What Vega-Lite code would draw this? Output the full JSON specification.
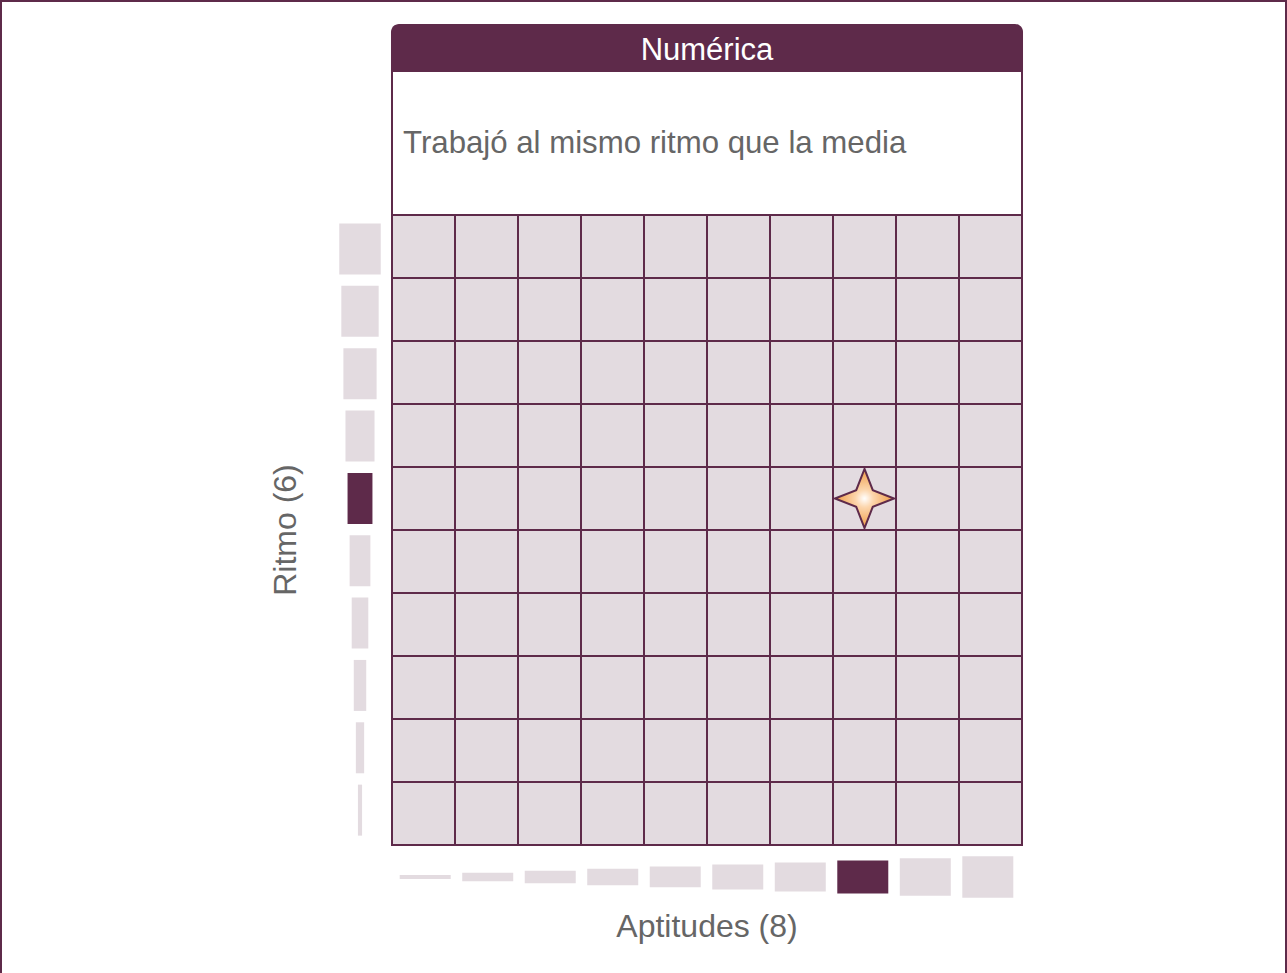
{
  "$schema": "https://vega.github.io/schema/vega-lite/v6.json",
  "width": 1287,
  "height": 973,
  "autosize": "none",
  "padding": 0,
  "background": "white",
  "config": {"view": {"stroke": null}, "font": "Liberation Sans"},
  "datasets": {
    "celdas": [
      {"aptitudes":1,"ritmo":1},{"aptitudes":1,"ritmo":2},{"aptitudes":1,"ritmo":3},{"aptitudes":1,"ritmo":4},{"aptitudes":1,"ritmo":5},{"aptitudes":1,"ritmo":6},{"aptitudes":1,"ritmo":7},{"aptitudes":1,"ritmo":8},{"aptitudes":1,"ritmo":9},{"aptitudes":1,"ritmo":10},
      {"aptitudes":2,"ritmo":1},{"aptitudes":2,"ritmo":2},{"aptitudes":2,"ritmo":3},{"aptitudes":2,"ritmo":4},{"aptitudes":2,"ritmo":5},{"aptitudes":2,"ritmo":6},{"aptitudes":2,"ritmo":7},{"aptitudes":2,"ritmo":8},{"aptitudes":2,"ritmo":9},{"aptitudes":2,"ritmo":10},
      {"aptitudes":3,"ritmo":1},{"aptitudes":3,"ritmo":2},{"aptitudes":3,"ritmo":3},{"aptitudes":3,"ritmo":4},{"aptitudes":3,"ritmo":5},{"aptitudes":3,"ritmo":6},{"aptitudes":3,"ritmo":7},{"aptitudes":3,"ritmo":8},{"aptitudes":3,"ritmo":9},{"aptitudes":3,"ritmo":10},
      {"aptitudes":4,"ritmo":1},{"aptitudes":4,"ritmo":2},{"aptitudes":4,"ritmo":3},{"aptitudes":4,"ritmo":4},{"aptitudes":4,"ritmo":5},{"aptitudes":4,"ritmo":6},{"aptitudes":4,"ritmo":7},{"aptitudes":4,"ritmo":8},{"aptitudes":4,"ritmo":9},{"aptitudes":4,"ritmo":10},
      {"aptitudes":5,"ritmo":1},{"aptitudes":5,"ritmo":2},{"aptitudes":5,"ritmo":3},{"aptitudes":5,"ritmo":4},{"aptitudes":5,"ritmo":5},{"aptitudes":5,"ritmo":6},{"aptitudes":5,"ritmo":7},{"aptitudes":5,"ritmo":8},{"aptitudes":5,"ritmo":9},{"aptitudes":5,"ritmo":10},
      {"aptitudes":6,"ritmo":1},{"aptitudes":6,"ritmo":2},{"aptitudes":6,"ritmo":3},{"aptitudes":6,"ritmo":4},{"aptitudes":6,"ritmo":5},{"aptitudes":6,"ritmo":6},{"aptitudes":6,"ritmo":7},{"aptitudes":6,"ritmo":8},{"aptitudes":6,"ritmo":9},{"aptitudes":6,"ritmo":10},
      {"aptitudes":7,"ritmo":1},{"aptitudes":7,"ritmo":2},{"aptitudes":7,"ritmo":3},{"aptitudes":7,"ritmo":4},{"aptitudes":7,"ritmo":5},{"aptitudes":7,"ritmo":6},{"aptitudes":7,"ritmo":7},{"aptitudes":7,"ritmo":8},{"aptitudes":7,"ritmo":9},{"aptitudes":7,"ritmo":10},
      {"aptitudes":8,"ritmo":1},{"aptitudes":8,"ritmo":2},{"aptitudes":8,"ritmo":3},{"aptitudes":8,"ritmo":4},{"aptitudes":8,"ritmo":5},{"aptitudes":8,"ritmo":6},{"aptitudes":8,"ritmo":7},{"aptitudes":8,"ritmo":8},{"aptitudes":8,"ritmo":9},{"aptitudes":8,"ritmo":10},
      {"aptitudes":9,"ritmo":1},{"aptitudes":9,"ritmo":2},{"aptitudes":9,"ritmo":3},{"aptitudes":9,"ritmo":4},{"aptitudes":9,"ritmo":5},{"aptitudes":9,"ritmo":6},{"aptitudes":9,"ritmo":7},{"aptitudes":9,"ritmo":8},{"aptitudes":9,"ritmo":9},{"aptitudes":9,"ritmo":10},
      {"aptitudes":10,"ritmo":1},{"aptitudes":10,"ritmo":2},{"aptitudes":10,"ritmo":3},{"aptitudes":10,"ritmo":4},{"aptitudes":10,"ritmo":5},{"aptitudes":10,"ritmo":6},{"aptitudes":10,"ritmo":7},{"aptitudes":10,"ritmo":8},{"aptitudes":10,"ritmo":9},{"aptitudes":10,"ritmo":10}
    ],
    "ritmo": [
      {"posicion":1,"nivel":1,"sel":false},{"posicion":2,"nivel":2,"sel":false},{"posicion":3,"nivel":3,"sel":false},{"posicion":4,"nivel":4,"sel":false},{"posicion":5,"nivel":5,"sel":false},
      {"posicion":6,"nivel":6,"sel":true},{"posicion":7,"nivel":7,"sel":false},{"posicion":8,"nivel":8,"sel":false},{"posicion":9,"nivel":9,"sel":false},{"posicion":10,"nivel":10,"sel":false}
    ],
    "aptitudes": [
      {"posicion":1,"nivel":1,"sel":false},{"posicion":2,"nivel":2,"sel":false},{"posicion":3,"nivel":3,"sel":false},{"posicion":4,"nivel":4,"sel":false},{"posicion":5,"nivel":5,"sel":false},
      {"posicion":6,"nivel":6,"sel":false},{"posicion":7,"nivel":7,"sel":false},{"posicion":8,"nivel":8,"sel":true},{"posicion":9,"nivel":9,"sel":false},{"posicion":10,"nivel":10,"sel":false}
    ],
    "resultado": [{"aptitudes":8,"ritmo":6}]
  },
  "layer": [
    {
      "layer": [
        {
          "data": {"name": "celdas"},
          "mark": {"type": "point", "shape": "square", "size": 3969, "filled": true, "opacity": 1, "fill": "#e3dbe0", "stroke": "#5e2a4a", "strokeWidth": 2},
          "encoding": {
            "x": {"field": "aptitudes", "type": "quantitative", "scale": {"domain": [-5.7222, 14.7063], "nice": false, "zero": false}, "axis": null},
            "y": {"field": "ritmo", "type": "quantitative", "scale": {"domain": [-1.5317, 13.9127], "nice": false, "zero": false}, "axis": null}
          }
        },
        {
          "data": {"values": [{}]},
          "mark": {"type": "rect", "fill": "white", "stroke": "#5e2a4a", "strokeWidth": 2},
          "encoding": {
            "x": {"datum": 0.5, "type": "quantitative", "scale": {"domain": [-5.7222, 14.7063], "nice": false, "zero": false}, "axis": null},
            "x2": {"datum": 10.5},
            "y": {"datum": 10.5, "type": "quantitative", "scale": {"domain": [-1.5317, 13.9127], "nice": false, "zero": false}, "axis": null},
            "y2": {"datum": 12.7857}
          }
        },
        {
          "data": {"values": [{}]},
          "mark": {"type": "rect", "fill": "#5e2a4a", "cornerRadiusTopLeft": 8, "cornerRadiusTopRight": 8},
          "encoding": {
            "x": {"datum": 0.484, "type": "quantitative", "scale": {"domain": [-5.7222, 14.7063], "nice": false, "zero": false}, "axis": null},
            "x2": {"datum": 10.516},
            "y": {"datum": 12.7857, "type": "quantitative", "scale": {"domain": [-1.5317, 13.9127], "nice": false, "zero": false}, "axis": null},
            "y2": {"datum": 13.5317}
          }
        },
        {
          "data": {"name": "resultado"},
          "mark": {
            "type": "point",
            "shape": "M0,-1L0.28,-0.28L1,0L0.28,0.28L0,1L-0.28,0.28L-1,0L-0.28,-0.28Z",
            "size": 3500,
            "filled": true,
            "opacity": 1,
            "fill": {"gradient": "radial", "x1": 0.5, "y1": 0.5, "r1": 0, "x2": 0.5, "y2": 0.5, "r2": 0.5, "stops": [{"offset": 0, "color": "#ffffff"}, {"offset": 0.3, "color": "#fcd6ad"}, {"offset": 1, "color": "#ef9a44"}]},
            "stroke": "#5e2a4a",
            "strokeWidth": 2
          },
          "encoding": {
            "x": {"field": "aptitudes", "type": "quantitative", "scale": {"domain": [-5.7222, 14.7063], "nice": false, "zero": false}, "axis": null},
            "y": {"field": "ritmo", "type": "quantitative", "scale": {"domain": [-1.5317, 13.9127], "nice": false, "zero": false}, "axis": null}
          }
        },
        {
          "data": {"values": [{}]},
          "mark": {"type": "text", "text": "Numérica", "font": "Liberation Sans", "fontSize": 31, "color": "white", "align": "center", "baseline": "alphabetic"},
          "encoding": {
            "x": {"datum": 5.5, "type": "quantitative", "scale": {"domain": [-5.7222, 14.7063], "nice": false, "zero": false}, "axis": null},
            "y": {"datum": 12.9603, "type": "quantitative", "scale": {"domain": [-1.5317, 13.9127], "nice": false, "zero": false}, "axis": null}
          }
        },
        {
          "data": {"values": [{}]},
          "mark": {"type": "text", "text": "Trabajó al mismo ritmo que la media", "font": "Liberation Sans", "fontSize": 31.2, "color": "#666666", "align": "left", "baseline": "alphabetic"},
          "encoding": {
            "x": {"datum": 0.675, "type": "quantitative", "scale": {"domain": [-5.7222, 14.7063], "nice": false, "zero": false}, "axis": null},
            "y": {"datum": 11.4841, "type": "quantitative", "scale": {"domain": [-1.5317, 13.9127], "nice": false, "zero": false}, "axis": null}
          }
        },
        {
          "data": {"values": [{}]},
          "mark": {"type": "text", "text": "Aptitudes (8)", "font": "Liberation Sans", "fontSize": 32, "color": "#666666", "align": "center", "baseline": "alphabetic"},
          "encoding": {
            "x": {"datum": 5.5, "type": "quantitative", "scale": {"domain": [-5.7222, 14.7063], "nice": false, "zero": false}, "axis": null},
            "y": {"datum": -0.9603, "type": "quantitative", "scale": {"domain": [-1.5317, 13.9127], "nice": false, "zero": false}, "axis": null}
          }
        },
        {
          "data": {"values": [{}]},
          "mark": {"type": "text", "text": "Ritmo (6)", "font": "Liberation Sans", "fontSize": 32, "color": "#666666", "align": "center", "baseline": "alphabetic", "angle": 270},
          "encoding": {
            "x": {"datum": -1.024, "type": "quantitative", "scale": {"domain": [-5.7222, 14.7063], "nice": false, "zero": false}, "axis": null},
            "y": {"datum": 5.5, "type": "quantitative", "scale": {"domain": [-1.5317, 13.9127], "nice": false, "zero": false}, "axis": null}
          }
        },
        {
          "data": {"values": [{}]},
          "mark": {"type": "rect", "fill": null, "fillOpacity": 0, "stroke": "#5e2a4a", "strokeWidth": 4},
          "encoding": {
            "x": {"datum": -5.7222, "type": "quantitative", "scale": {"domain": [-5.7222, 14.7063], "nice": false, "zero": false}, "axis": null},
            "x2": {"datum": 14.7063},
            "y": {"datum": 13.9127, "type": "quantitative", "scale": {"domain": [-1.5317, 13.9127], "nice": false, "zero": false}, "axis": null},
            "y2": {"datum": -2.5}
          }
        }
      ]
    },
    {
      "data": {"name": "ritmo"},
      "mark": {"type": "bar", "orient": "horizontal", "size": 51},
      "encoding": {
        "y": {"field": "posicion", "type": "quantitative", "scale": {"domain": [-1.5317, 13.9127], "nice": false, "zero": false}, "axis": null},
        "x": {"field": "nivel", "type": "quantitative", "stack": "center", "scale": {"domain": [-81.747, 228.373], "nice": false, "zero": false}, "axis": null},
        "color": {"condition": {"test": "datum.sel", "value": "#5e2a4a"}, "value": "#e3dbe0"}
      }
    },
    {
      "data": {"name": "aptitudes"},
      "mark": {"type": "bar", "orient": "vertical", "size": 51},
      "encoding": {
        "x": {"field": "posicion", "type": "quantitative", "scale": {"domain": [-5.7222, 14.7063], "nice": false, "zero": false}, "axis": null},
        "y": {"field": "nivel", "type": "quantitative", "stack": "center", "scale": {"domain": [-18.133, 216.325], "nice": false, "zero": false}, "axis": null},
        "color": {"condition": {"test": "datum.sel", "value": "#5e2a4a"}, "value": "#e3dbe0"}
      }
    }
  ],
  "resolve": {"scale": {"x": "independent", "y": "independent"}}
}
